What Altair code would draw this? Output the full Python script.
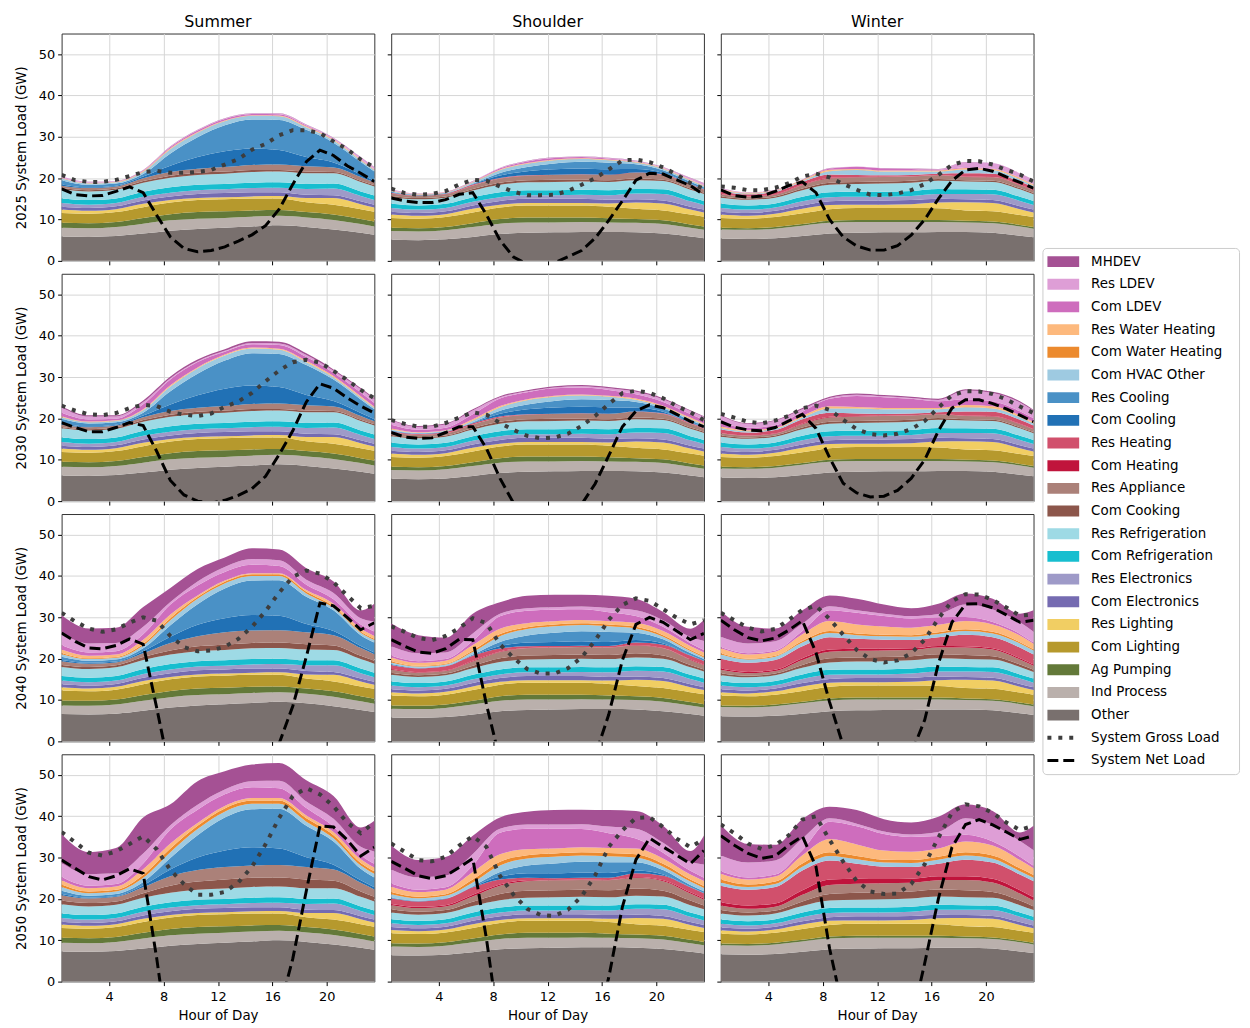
import altair as alt
import pandas as pd

# ---------------- axes / categories ----------------
HOURS_AREA = [0.5, 2.5, 4.5, 6.5, 8.5, 10.5, 12.5, 14.5, 16.5, 18.5, 20.5, 22.5, 23.5]
HOURS_LINE = [0.5, 1.5, 2.5, 3.5, 4.5, 5.5, 6.5, 7.5, 8.5, 9.5, 10.5, 11.5,
              12.5, 13.5, 14.5, 15.5, 16.5, 17.5, 18.5, 19.5, 20.5, 21.5, 22.5, 23.5]
YEARS = ["2025", "2030", "2040", "2050"]
SEASONS = ["Summer", "Shoulder", "Winter"]
X_TICKS = [4, 8, 12, 16, 20]
Y_TICKS = [0, 10, 20, 30, 40, 50]

# stacking order, bottom -> top
CATEGORIES = ["Other", "Ind Process", "Ag Pumping", "Com Lighting", "Res Lighting",
              "Com Electronics", "Res Electronics", "Com Refrigeration", "Res Refrigeration",
              "Com Cooking", "Res Appliance", "Com Heating", "Res Heating", "Com Cooling",
              "Res Cooling", "Com HVAC Other", "Com Water Heating", "Res Water Heating",
              "Com LDEV", "Res LDEV", "MHDEV"]
COLORS = ["#79706e", "#bab0ac", "#637939", "#b6992d", "#f1ce63",
          "#756bb1", "#9e9ac8", "#17becf", "#9edae5",
          "#8c564b", "#ab8179", "#c0143c", "#d1506c", "#2171b5",
          "#4a91c6", "#9ecae1", "#ec8a2e", "#fdb97d",
          "#ce6dbd", "#de9ed6", "#a55194"]
LINE_LABELS = ["System Gross Load", "System Net Load"]

ZERO = [0, 0, 0, 0, 0, 0, 0, 0, 0, 0, 0, 0, 0]
TINY = [0.05, 0.05, 0.05, 0.05, 0.05, 0.05, 0.05, 0.05, 0.05, 0.05, 0.05, 0.05, 0.05]

# ---------------- season-level components (GW) ----------------
S_IND = [2.1, 2.1, 2.2, 2.4, 2.5, 2.5, 2.4, 2.4, 2.3, 2.3, 2.3, 2.1, 2.0]
S_AG = [1.2, 1.2, 1.2, 1.4, 1.5, 1.6, 1.6, 1.5, 1.4, 1.3, 1.3, 1.2, 1.2]
S_CLIGHT = [2.4, 2.3, 2.4, 2.6, 2.8, 2.9, 2.9, 2.9, 2.8, 2.4, 2.4, 2.4, 2.4]
S_RLIGHT = [0.8, 0.7, 0.7, 0.8, 0.6, 0.5, 0.5, 0.5, 0.6, 1.0, 1.6, 1.2, 1.0]
S_CELEC = [0.7, 0.7, 0.7, 0.8, 0.9, 1.0, 1.0, 1.0, 0.9, 0.8, 0.7, 0.7, 0.7]
S_RELEC = [0.9, 0.8, 0.8, 0.9, 0.9, 0.9, 0.9, 1.0, 1.1, 1.4, 1.6, 1.3, 1.1]
S_CREF = [1.1, 1.1, 1.1, 1.2, 1.3, 1.3, 1.3, 1.3, 1.3, 1.2, 1.2, 1.1, 1.1]
S_RREF = [2.2, 2.1, 2.1, 2.2, 2.3, 2.4, 2.5, 2.6, 2.6, 2.6, 2.5, 2.3, 2.2]

H_IND = [2.1, 2.1, 2.2, 2.4, 2.5, 2.5, 2.4, 2.4, 2.3, 2.3, 2.3, 2.1, 2.0]
H_AG = [0.8, 0.8, 0.8, 0.9, 1.1, 1.2, 1.2, 1.1, 1.0, 0.9, 0.9, 0.8, 0.8]
H_CLIGHT = [2.4, 2.3, 2.4, 2.6, 2.8, 2.9, 2.9, 2.9, 2.8, 2.5, 2.4, 2.4, 2.4]
H_RLIGHT = [0.8, 0.7, 0.7, 0.9, 0.7, 0.6, 0.6, 0.6, 0.8, 1.5, 1.7, 1.2, 1.0]
H_CELEC = [0.7, 0.7, 0.7, 0.8, 0.9, 1.0, 1.0, 1.0, 0.9, 0.8, 0.7, 0.7, 0.7]
H_RELEC = [0.9, 0.8, 0.8, 0.9, 0.9, 0.9, 0.9, 1.0, 1.1, 1.4, 1.6, 1.3, 1.1]
H_CREF = [1.0, 1.0, 1.0, 1.1, 1.2, 1.2, 1.2, 1.2, 1.2, 1.1, 1.1, 1.0, 1.0]
H_RREF = [1.6, 1.5, 1.5, 1.6, 1.8, 1.9, 2.0, 2.0, 2.0, 2.1, 2.0, 1.8, 1.7]

W_IND = [2.2, 2.2, 2.3, 2.5, 2.6, 2.6, 2.5, 2.5, 2.4, 2.3, 2.3, 2.2, 2.1]
W_AG = [0.4, 0.4, 0.4, 0.4, 0.5, 0.5, 0.5, 0.5, 0.5, 0.4, 0.4, 0.4, 0.4]
W_CLIGHT = [2.4, 2.3, 2.4, 2.6, 2.8, 2.9, 2.9, 2.9, 2.8, 2.5, 2.5, 2.4, 2.4]
W_RLIGHT = [0.8, 0.7, 0.8, 1.1, 1.0, 0.8, 0.8, 0.9, 1.4, 2.0, 2.0, 1.4, 1.1]
W_CELEC = [0.7, 0.7, 0.7, 0.8, 0.9, 1.0, 1.0, 1.0, 0.9, 0.7, 0.7, 0.7, 0.7]
W_RELEC = [0.9, 0.8, 0.8, 1.0, 1.0, 0.9, 0.9, 1.0, 1.2, 1.3, 1.4, 1.3, 1.1]
W_CREF = [1.0, 1.0, 1.0, 1.1, 1.2, 1.2, 1.2, 1.2, 1.2, 1.1, 1.1, 1.0, 1.0]
W_RREF = [1.5, 1.4, 1.4, 1.6, 1.8, 1.9, 2.0, 2.0, 2.0, 1.9, 1.9, 1.8, 1.6]

# ---------------- panel components (GW) ----------------
# 2025 Summer
SU25_OTHER = [5.9, 5.8, 6.0, 6.6, 7.3, 7.7, 8.0, 8.3, 8.6, 8.2, 7.6, 6.8, 6.3]
SU25_CCOOK = [0.3, 0.3, 0.3, 0.4, 0.5, 0.5, 0.5, 0.5, 0.4, 0.4, 0.3, 0.3, 0.3]
SU25_RAPPL = [0.6, 0.5, 0.5, 0.7, 0.9, 1.0, 1.1, 1.2, 1.3, 1.3, 1.1, 0.9, 0.7]
SU25_CCOOL = [0.3, 0.2, 0.2, 0.4, 1.5, 2.8, 3.8, 4.0, 3.5, 2.2, 1.2, 0.6, 0.4]
SU25_RCOOL = [1.0, 0.6, 0.5, 0.6, 3.0, 4.8, 6.3, 7.0, 7.3, 6.6, 4.8, 3.0, 2.2]
SU25_HVAC = [0.4, 0.3, 0.3, 0.5, 1.0, 1.1, 1.0, 0.9, 0.9, 0.6, 0.5, 0.4, 0.4]
SU25_RWH = [0.1, 0.1, 0.1, 0.2, 0.2, 0.1, 0.1, 0.1, 0.1, 0.2, 0.2, 0.2, 0.1]
SU25_CLDEV = [0.1, 0.05, 0.05, 0.1, 0.3, 0.4, 0.4, 0.3, 0.3, 0.2, 0.1, 0.1, 0.1]
SU25_RLDEV = [0.3, 0.2, 0.1, 0.1, 0.1, 0.1, 0.1, 0.1, 0.2, 0.2, 0.3, 0.4, 0.4]

# 2025 Shoulder
SH25_OTHER = [5.1, 5.0, 5.2, 5.8, 6.5, 6.8, 6.9, 7.0, 7.0, 6.9, 6.6, 5.9, 5.5]
SH25_CCOOK = [0.3, 0.3, 0.3, 0.4, 0.5, 0.5, 0.5, 0.5, 0.4, 0.4, 0.3, 0.3, 0.3]
SH25_RAPPL = [0.6, 0.5, 0.5, 0.8, 1.0, 1.1, 1.2, 1.2, 1.3, 1.4, 1.2, 0.9, 0.7]
SH25_RHEAT = [0.1, 0.05, 0.1, 0.2, 0.1, 0.05, 0, 0, 0, 0.05, 0.1, 0.1, 0.1]
SH25_CCOOL = [0.05, 0.05, 0.05, 0.1, 0.6, 1.0, 1.3, 1.4, 1.3, 0.8, 0.3, 0.1, 0.05]
SH25_RCOOL = [0.2, 0.1, 0.1, 0.1, 0.6, 1.0, 1.4, 1.6, 1.6, 1.2, 0.7, 0.5, 0.4]
SH25_HVAC = [0.2, 0.1, 0.1, 0.3, 0.7, 0.8, 0.8, 0.7, 0.6, 0.4, 0.3, 0.3, 0.3]
SH25_RWH = [0.1, 0.05, 0.05, 0.1, 0.1, 0.1, 0.1, 0.1, 0.1, 0.1, 0.1, 0.1, 0.1]
SH25_CLDEV = [0.05, 0, 0, 0.05, 0.3, 0.4, 0.4, 0.3, 0.2, 0.1, 0.05, 0.05, 0.05]
SH25_RLDEV = [0.2, 0.1, 0.1, 0.1, 0.1, 0.1, 0.1, 0.1, 0.2, 0.2, 0.2, 0.4, 0.5]

# 2025 Winter
WI25_OTHER = [5.4, 5.3, 5.5, 6.0, 6.6, 6.8, 6.9, 6.9, 7.0, 7.0, 6.8, 6.1, 5.7]
WI25_CCOOK = [0.3, 0.3, 0.3, 0.4, 0.5, 0.5, 0.5, 0.5, 0.4, 0.3, 0.3, 0.3, 0.3]
WI25_RAPPL = [0.5, 0.4, 0.4, 0.8, 1.0, 1.1, 1.1, 1.0, 0.9, 0.8, 0.8, 0.7, 0.6]
WI25_CHEAT = [0.1, 0.1, 0.1, 0.1, 0.2, 0.1, 0.1, 0.1, 0.1, 0.1, 0.1, 0.1, 0.1]
WI25_RHEAT = [0.6, 0.5, 0.6, 0.7, 0.8, 0.5, 0.3, 0.3, 0.3, 0.8, 0.8, 0.8, 0.7]
WI25_HVAC = [0.3, 0.2, 0.2, 0.2, 0.8, 1.2, 0.9, 0.8, 0.5, 0.9, 0.8, 0.5, 0.4]
WI25_RWH = [0.2, 0.1, 0.1, 0.2, 0.3, 0.2, 0.2, 0.2, 0.2, 0.3, 0.3, 0.3, 0.2]
WI25_CLDEV = [0.05, 0, 0, 0.05, 0.3, 0.5, 0.5, 0.4, 0.2, 0.2, 0.1, 0.1, 0.1]
WI25_RLDEV = [0.2, 0.1, 0.1, 0.05, 0.05, 0.05, 0.05, 0.05, 0.1, 1.2, 1.3, 1.0, 1.0]

# 2030 Summer
SU30_OTHER = [6.2, 6.1, 6.3, 6.9, 7.6, 8.0, 8.3, 8.6, 8.9, 8.5, 7.9, 7.1, 6.6]
SU30_CCOOL = [0.3, 0.2, 0.2, 0.4, 1.6, 3.0, 4.2, 4.5, 4.0, 2.5, 1.3, 0.7, 0.5]
SU30_RCOOL = [1.1, 0.7, 0.6, 0.7, 3.2, 5.2, 6.8, 7.8, 8.0, 7.2, 5.2, 3.3, 2.4]
SU30_HVAC = [0.4, 0.3, 0.3, 0.6, 1.1, 1.3, 1.2, 1.1, 1.0, 0.7, 0.5, 0.4, 0.4]
SU30_RWH = [0.2, 0.1, 0.1, 0.2, 0.3, 0.2, 0.2, 0.2, 0.2, 0.3, 0.3, 0.3, 0.2]
SU30_CLDEV = [0.8, 0.5, 0.4, 1.2, 1.4, 1.3, 0.7, 0.8, 0.9, 0.9, 0.8, 0.9, 0.9]
SU30_RLDEV = [1.3, 0.7, 0.5, 0.5, 0.3, 0.2, 0.2, 0.3, 0.4, 0.5, 0.5, 0.8, 0.9]
SU30_MHDEV = [0.3, 0.3, 0.3, 0.4, 0.4, 0.4, 0.4, 0.4, 0.4, 0.4, 0.3, 0.3, 0.3]

# 2030 Shoulder
SH30_OTHER = [5.4, 5.3, 5.5, 6.1, 6.8, 7.1, 7.2, 7.3, 7.3, 7.2, 6.9, 6.2, 5.8]
SH30_RHEAT = [0.2, 0.2, 0.3, 0.3, 0.2, 0.05, 0, 0, 0, 0.05, 0.1, 0.2, 0.2]
SH30_CCOOL = [0.05, 0.05, 0.05, 0.1, 0.7, 1.2, 1.5, 1.6, 1.5, 0.9, 0.4, 0.1, 0.05]
SH30_RCOOL = [0.2, 0.1, 0.1, 0.1, 0.7, 1.2, 1.6, 1.8, 1.8, 1.4, 0.8, 0.5, 0.4]
SH30_HVAC = [0.2, 0.1, 0.1, 0.4, 0.8, 1.0, 1.0, 0.9, 0.8, 0.5, 0.3, 0.3, 0.3]
SH30_RWH = [0.2, 0.1, 0.1, 0.3, 0.3, 0.2, 0.2, 0.2, 0.2, 0.3, 0.3, 0.3, 0.2]
SH30_CLDEV = [0.9, 0.6, 0.6, 1.2, 1.8, 1.7, 1.8, 1.7, 1.4, 1.0, 0.9, 0.9, 0.9]
SH30_RLDEV = [1.1, 0.7, 0.8, 0.9, 0.3, 0.2, 0.2, 0.3, 0.4, 0.6, 0.6, 0.7, 0.7]
SH30_MHDEV = [0.2, 0.2, 0.2, 0.3, 0.3, 0.3, 0.3, 0.3, 0.3, 0.3, 0.3, 0.2, 0.2]

# 2030 Winter
WI30_OTHER = [5.7, 5.6, 5.8, 6.3, 6.9, 7.1, 7.2, 7.2, 7.3, 7.3, 7.1, 6.4, 6.0]
WI30_CHEAT = [0.1, 0.1, 0.1, 0.2, 0.2, 0.1, 0.1, 0.1, 0.1, 0.1, 0.1, 0.1, 0.1]
WI30_RHEAT = [0.8, 0.7, 0.8, 1.0, 1.0, 0.6, 0.4, 0.4, 0.4, 1.0, 1.0, 1.0, 0.9]
WI30_HVAC = [0.4, 0.3, 0.3, 0.4, 1.0, 1.2, 1.1, 1.0, 0.7, 1.0, 0.8, 0.6, 0.5]
WI30_RWH = [0.3, 0.2, 0.2, 0.4, 0.5, 0.3, 0.3, 0.3, 0.3, 0.5, 0.5, 0.4, 0.3]
WI30_CLDEV = [0.9, 0.6, 0.6, 1.0, 1.8, 2.7, 2.6, 2.2, 1.6, 1.4, 1.2, 1.0, 0.9]
WI30_RLDEV = [1.7, 0.9, 1.1, 0.6, 0.2, 0.3, 0.2, 0.2, 0.3, 2.1, 2.0, 2.1, 1.8]
WI30_MHDEV = [0.2, 0.2, 0.2, 0.3, 0.3, 0.3, 0.3, 0.3, 0.3, 0.3, 0.3, 0.3, 0.2]

# 2040 Summer
SU40_OTHER = [6.6, 6.5, 6.7, 7.4, 8.2, 8.7, 9.0, 9.3, 9.6, 9.2, 8.5, 7.6, 7.1]
SU40_CCOOK = [0.5, 0.5, 0.5, 0.7, 1.0, 1.2, 1.3, 1.3, 1.3, 1.3, 1.1, 0.8, 0.7]
SU40_RAPPL = [0.9, 0.8, 0.7, 0.9, 1.8, 2.4, 3.0, 3.0, 3.0, 2.9, 2.5, 1.9, 1.6]
SU40_CCOOL = [0.3, 0.2, 0.2, 0.5, 1.5, 2.8, 3.4, 3.8, 3.5, 2.0, 1.0, 0.5, 0.4]
SU40_RCOOL = [0.8, 0.5, 0.5, 0.7, 2.8, 5.0, 7.2, 8.3, 8.6, 6.6, 5.0, 2.6, 2.4]
SU40_HVAC = [0.6, 0.4, 0.4, 0.7, 1.2, 1.3, 1.2, 1.1, 1.0, 0.8, 0.6, 0.6, 0.6]
SU40_CWH = [0.3, 0.2, 0.2, 0.4, 0.5, 0.4, 0.4, 0.4, 0.4, 0.4, 0.4, 0.3, 0.3]
SU40_RWH = [0.8, 0.6, 0.6, 1.0, 0.9, 0.4, 0.3, 0.3, 0.3, 0.4, 0.6, 0.7, 0.7]
SU40_CLDEV = [1.1, 0.8, 0.8, 1.3, 2.4, 2.4, 2.1, 2.0, 1.7, 1.3, 1.1, 1.0, 1.1]
SU40_RLDEV = [2.8, 2.2, 2.0, 1.8, 0.6, 1.0, 1.2, 1.4, 1.4, 1.2, 1.5, 1.5, 2.4]
SU40_MHDEV = [4.4, 3.6, 3.7, 4.8, 3.4, 3.0, 2.3, 2.6, 2.6, 2.8, 2.8, 1.9, 4.3]

# 2040 Shoulder
SH40_OTHER = [5.8, 5.7, 5.9, 6.5, 7.3, 7.6, 7.7, 7.8, 7.8, 7.7, 7.3, 6.6, 6.2]
SH40_CCOOK = [0.5, 0.4, 0.4, 0.6, 0.9, 1.0, 1.0, 1.0, 1.0, 1.0, 0.8, 0.6, 0.5]
SH40_RAPPL = [0.8, 0.6, 0.6, 1.0, 1.5, 1.7, 1.8, 1.8, 1.8, 1.9, 1.7, 1.2, 1.0]
SH40_CHEAT = [0.15, 0.15, 0.15, 0.2, 0.15, 0.1, 0.05, 0.05, 0.05, 0.1, 0.1, 0.15, 0.15]
SH40_RHEAT = [0.9, 0.9, 1.0, 1.2, 0.7, 0.4, 0.3, 0.3, 0.3, 0.6, 0.8, 0.9, 0.9]
SH40_CCOOL = [0.05, 0.05, 0.05, 0.1, 0.6, 0.9, 1.0, 1.1, 1.0, 0.6, 0.3, 0.1, 0.05]
SH40_RCOOL = [0.2, 0.1, 0.1, 0.2, 1.0, 1.7, 2.2, 2.4, 2.4, 1.8, 1.0, 0.5, 0.4]
SH40_HVAC = [0.4, 0.3, 0.3, 0.6, 1.4, 1.6, 1.6, 1.5, 1.4, 1.0, 0.6, 0.5, 0.4]
SH40_CWH = [0.3, 0.2, 0.2, 0.4, 0.5, 0.4, 0.4, 0.4, 0.4, 0.4, 0.4, 0.3, 0.3]
SH40_RWH = [0.9, 0.7, 0.7, 1.3, 1.3, 1.0, 0.8, 0.8, 0.8, 1.0, 1.0, 0.9, 0.9]
SH40_CLDEV = [0.5, 0.4, 0.4, 1.0, 3.0, 3.0, 2.8, 2.6, 2.2, 1.6, 1.0, 0.7, 0.6]
SH40_RLDEV = [2.2, 1.9, 1.6, 1.8, 0.6, 0.6, 0.6, 0.7, 1.0, 1.4, 1.6, 1.5, 2.2]
SH40_MHDEV = [5.5, 4.4, 3.6, 4.8, 2.8, 3.0, 3.0, 2.8, 3.0, 2.8, 2.0, 2.0, 5.1]

# 2040 Winter
WI40_OTHER = [6.1, 6.0, 6.2, 6.7, 7.3, 7.5, 7.6, 7.6, 7.7, 7.7, 7.5, 6.8, 6.4]
WI40_CCOOK = [0.5, 0.4, 0.4, 0.7, 1.0, 1.0, 1.0, 1.0, 1.0, 1.0, 0.8, 0.6, 0.5]
WI40_RAPPL = [0.8, 0.6, 0.6, 1.2, 1.6, 1.6, 1.6, 1.5, 1.6, 1.8, 1.6, 1.2, 1.0]
WI40_CHEAT = [0.3, 0.3, 0.3, 0.4, 0.5, 0.5, 0.4, 0.4, 0.4, 0.3, 0.3, 0.3, 0.3]
WI40_RHEAT = [2.4, 2.2, 2.4, 2.9, 3.0, 2.4, 2.2, 2.0, 2.1, 2.8, 2.7, 2.6, 2.4]
WI40_HVAC = [1.0, 0.8, 0.8, 0.9, 1.0, 0.9, 0.8, 0.8, 0.8, 0.9, 0.9, 1.0, 1.0]
WI40_CWH = [0.3, 0.2, 0.2, 0.4, 0.5, 0.4, 0.4, 0.4, 0.4, 0.4, 0.4, 0.3, 0.3]
WI40_RWH = [1.2, 1.0, 1.0, 1.6, 2.4, 2.2, 2.0, 1.8, 1.8, 2.0, 1.8, 1.6, 1.3]
WI40_CLDEV = [0.3, 0.3, 0.3, 0.8, 2.6, 2.8, 2.5, 2.2, 1.8, 1.0, 0.6, 0.4, 0.3]
WI40_RLDEV = [2.5, 2.4, 2.2, 1.8, 1.0, 0.6, 0.6, 0.6, 0.8, 3.0, 3.0, 2.8, 2.6]
WI40_MHDEV = [6.2, 4.0, 3.1, 3.2, 2.6, 2.8, 2.2, 1.9, 2.5, 2.7, 2.6, 2.1, 5.2]

# 2050 Summer
SU50_OTHER = [7.3, 7.2, 7.4, 8.0, 8.7, 9.1, 9.4, 9.7, 10.0, 9.6, 9.0, 8.2, 7.7]
SU50_CCOOK = [0.9, 0.8, 0.8, 1.1, 1.7, 2.0, 2.2, 2.2, 2.2, 2.1, 1.8, 1.3, 1.1]
SU50_RAPPL = [1.3, 1.1, 1.1, 1.4, 2.3, 2.8, 3.0, 3.0, 3.0, 3.0, 2.7, 2.1, 1.8]
SU50_CCOOL = [0.3, 0.2, 0.2, 0.5, 1.6, 3.0, 4.0, 4.4, 4.0, 2.4, 1.2, 0.6, 0.5]
SU50_RCOOL = [0.8, 0.5, 0.5, 0.8, 2.8, 5.4, 8.0, 9.2, 9.6, 7.6, 5.6, 2.8, 2.4]
SU50_HVAC = [0.9, 0.6, 0.6, 1.0, 1.4, 1.5, 1.4, 1.3, 1.2, 1.0, 0.8, 0.8, 0.9]
SU50_CWH = [0.6, 0.4, 0.4, 0.7, 0.9, 0.8, 0.8, 0.8, 0.8, 0.8, 0.7, 0.6, 0.6]
SU50_RWH = [1.0, 0.8, 0.8, 1.4, 1.2, 0.7, 0.6, 0.6, 0.6, 0.7, 0.8, 0.9, 0.9]
SU50_CLDEV = [0.8, 0.6, 0.6, 1.4, 3.4, 3.2, 2.8, 2.6, 2.4, 1.8, 1.3, 1.0, 0.9]
SU50_RLDEV = [3.4, 2.8, 2.6, 2.4, 1.0, 1.2, 1.2, 1.5, 1.8, 1.6, 1.9, 2.0, 3.0]
SU50_MHDEV = [7.0, 5.3, 6.1, 8.7, 5.1, 5.7, 4.4, 4.0, 4.3, 5.1, 5.5, 4.7, 7.4]

# 2050 Shoulder
SH50_OTHER = [6.4, 6.3, 6.5, 7.1, 7.8, 8.1, 8.2, 8.3, 8.3, 8.2, 7.9, 7.2, 6.8]
SH50_CCOOK = [0.8, 0.7, 0.7, 1.0, 1.5, 1.7, 1.7, 1.7, 1.7, 1.7, 1.4, 1.1, 0.9]
SH50_RAPPL = [1.0, 0.9, 0.9, 1.3, 2.0, 2.3, 2.4, 2.4, 2.4, 2.6, 2.3, 1.7, 1.4]
SH50_CHEAT = [0.3, 0.3, 0.3, 0.4, 0.3, 0.2, 0.1, 0.1, 0.1, 0.2, 0.2, 0.3, 0.3]
SH50_RHEAT = [1.3, 1.3, 1.5, 1.8, 1.2, 0.6, 0.4, 0.4, 0.5, 0.9, 1.1, 1.2, 1.3]
SH50_CCOOL = [0.05, 0.05, 0.05, 0.1, 0.7, 1.1, 1.2, 1.3, 1.2, 0.7, 0.3, 0.1, 0.05]
SH50_RCOOL = [0.2, 0.1, 0.1, 0.2, 1.1, 1.9, 2.4, 2.6, 2.6, 2.0, 1.1, 0.5, 0.4]
SH50_HVAC = [0.8, 0.6, 0.6, 0.9, 1.6, 1.7, 1.6, 1.5, 1.4, 1.1, 0.8, 0.8, 0.8]
SH50_CWH = [0.5, 0.4, 0.4, 0.7, 0.9, 0.8, 0.8, 0.8, 0.8, 0.8, 0.7, 0.5, 0.5]
SH50_RWH = [1.3, 1.1, 1.1, 1.8, 1.8, 1.4, 1.2, 1.2, 1.2, 1.4, 1.3, 1.2, 1.2]
SH50_CLDEV = [0.8, 0.6, 0.6, 1.6, 5.2, 5.0, 4.8, 4.4, 3.6, 2.4, 1.4, 0.9, 0.8]
SH50_RLDEV = [3.4, 3.0, 2.8, 2.8, 1.0, 1.0, 1.0, 1.2, 1.6, 2.4, 2.4, 2.2, 3.2]
SH50_MHDEV = [5.8, 4.2, 4.5, 4.4, 2.7, 3.1, 3.5, 3.5, 4.0, 4.3, 4.1, 2.6, 7.0]

# 2050 Winter
WI50_OTHER = [6.6, 6.5, 6.7, 7.2, 7.8, 8.0, 8.1, 8.1, 8.2, 8.2, 8.0, 7.3, 6.9]
WI50_CCOOK = [0.8, 0.7, 0.7, 1.1, 1.6, 1.7, 1.7, 1.7, 1.7, 1.7, 1.4, 1.1, 0.9]
WI50_RAPPL = [1.1, 0.9, 0.9, 1.6, 2.2, 2.2, 2.2, 2.1, 2.2, 2.5, 2.3, 1.7, 1.4]
WI50_CHEAT = [0.8, 0.8, 0.8, 1.1, 1.3, 1.2, 1.0, 1.0, 1.0, 0.9, 0.9, 0.8, 0.8]
WI50_RHEAT = [4.0, 3.8, 4.0, 4.8, 4.6, 3.6, 3.0, 2.8, 3.0, 4.0, 3.9, 3.8, 3.9]
WI50_HVAC = [0.8, 0.7, 0.7, 0.9, 1.1, 1.1, 1.0, 1.0, 1.0, 1.0, 0.9, 0.8, 0.8]
WI50_CWH = [0.7, 0.6, 0.6, 0.8, 0.9, 0.8, 0.7, 0.7, 0.7, 0.8, 0.8, 0.7, 0.7]
WI50_RWH = [1.4, 1.2, 1.2, 2.0, 3.2, 2.8, 2.2, 2.0, 2.0, 2.6, 2.4, 2.0, 1.6]
WI50_CLDEV = [0.6, 0.5, 0.5, 1.2, 4.2, 4.4, 4.0, 3.6, 3.0, 1.6, 1.0, 0.8, 0.6]
WI50_RLDEV = [3.8, 3.6, 3.4, 2.8, 0.8, 0.6, 0.6, 0.6, 1.0, 4.0, 4.0, 3.8, 3.8]
WI50_MHDEV = [7.4, 4.5, 3.8, 4.7, 2.8, 3.3, 3.0, 2.9, 3.7, 3.4, 3.4, 2.1, 5.9]

# ---------------- system load lines (GW, hourly) ----------------
G_SU25 = [20.8, 19.5, 19.1, 19.1, 19.6, 20.5, 21.5, 21.8, 21.3, 21.3, 21.5, 22.0, 23.3, 24.6, 26.9, 28.3, 30.4, 31.6, 31.6, 30.9, 28.9, 27.0, 24.5, 22.6]
N_SU25 = [17.4, 16.0, 15.7, 15.8, 16.8, 17.9, 16.5, 11.0, 5.8, 3.0, 2.2, 2.5, 3.4, 4.8, 6.3, 8.5, 12.5, 18.5, 24.0, 26.8, 25.5, 23.0, 21.2, 19.2]
G_SH25 = [17.5, 16.4, 16.0, 16.2, 16.9, 18.5, 19.6, 19.4, 18.0, 16.7, 15.9, 15.9, 16.0, 16.9, 18.4, 20.0, 22.1, 24.3, 24.5, 23.9, 22.6, 20.9, 18.8, 17.4]
N_SH25 = [15.2, 14.5, 14.1, 14.1, 14.8, 16.1, 16.5, 11.2, 5.0, 0.9, -0.8, -1.2, -0.5, 1.0, 2.5, 5.5, 9.8, 14.5, 19.5, 21.2, 21.0, 19.6, 18.2, 16.0]
G_WI25 = [18.0, 17.7, 17.1, 17.1, 17.7, 18.8, 20.4, 21.1, 20.2, 18.6, 17.2, 16.0, 15.9, 16.3, 17.1, 18.6, 20.8, 23.2, 24.2, 24.1, 23.3, 22.0, 20.9, 19.2]
N_WI25 = [17.2, 15.8, 15.4, 15.7, 16.8, 18.2, 19.1, 16.5, 10.0, 5.8, 3.6, 2.6, 2.6, 3.7, 6.2, 10.0, 15.0, 19.4, 22.0, 22.4, 21.7, 20.3, 19.0, 17.6]
G_SU30 = [23.1, 21.9, 21.0, 20.8, 21.3, 22.5, 23.3, 23.0, 21.6, 20.9, 20.6, 21.2, 22.8, 24.1, 26.2, 29.0, 31.6, 33.6, 34.2, 33.5, 31.5, 29.3, 26.9, 24.9]
N_SU30 = [19.0, 17.8, 16.8, 16.8, 17.8, 19.0, 18.3, 12.0, 5.0, 1.5, 0.0, -0.5, 0.2, 1.4, 3.0, 6.0, 11.3, 17.0, 24.0, 28.4, 27.3, 25.0, 23.0, 21.3]
G_SH30 = [19.6, 18.7, 18.0, 18.0, 18.9, 20.2, 21.5, 20.9, 18.9, 17.2, 15.8, 15.2, 15.4, 16.3, 18.2, 20.6, 23.5, 26.1, 26.7, 26.2, 24.9, 23.0, 21.5, 19.6]
N_SH30 = [16.6, 15.5, 15.2, 15.3, 16.6, 18.0, 18.0, 12.8, 5.5, -0.5, -4.0, -5.5, -5.0, -3.0, -0.8, 4.2, 11.0, 18.0, 21.8, 23.3, 22.6, 21.0, 19.3, 18.0]
G_WI30 = [21.1, 20.2, 19.2, 18.8, 19.5, 20.6, 22.5, 23.1, 22.1, 19.7, 17.4, 16.2, 15.9, 16.3, 17.4, 19.4, 22.6, 25.6, 26.6, 26.5, 25.9, 24.6, 22.9, 21.3]
N_WI30 = [19.2, 17.9, 17.2, 17.0, 17.8, 19.4, 21.0, 17.6, 10.5, 4.3, 2.0, 1.0, 1.2, 2.6, 5.5, 10.0, 17.0, 22.5, 24.5, 24.5, 23.6, 22.3, 20.8, 19.2]
G_SU40 = [31.1, 29.0, 27.3, 26.5, 27.1, 28.7, 30.0, 29.2, 25.5, 22.8, 21.8, 22.0, 22.9, 24.8, 27.7, 31.5, 36.0, 39.8, 41.3, 40.6, 38.5, 35.3, 32.2, 32.8]
N_SU40 = [26.2, 24.2, 22.6, 22.4, 23.2, 24.8, 23.5, 8.0, -8.0, -15.0, -20.0, -22.0, -22.0, -20.0, -15.0, -8.0, -0.5, 8.5, 20.5, 33.5, 32.8, 30.0, 27.0, 28.7]
G_SH40 = [27.8, 26.5, 25.0, 24.5, 25.5, 27.4, 29.8, 28.6, 23.5, 20.2, 17.5, 16.4, 16.4, 17.7, 20.3, 24.4, 29.4, 33.0, 34.6, 34.0, 32.0, 29.9, 28.3, 29.3]
N_SH40 = [24.6, 23.0, 21.6, 21.3, 22.4, 24.7, 24.6, 9.0, -4.5, -12.0, -17.0, -19.0, -19.0, -16.0, -10.0, -3.5, 6.5, 19.6, 28.3, 30.0, 28.8, 26.7, 24.6, 26.1]
G_WI40 = [31.1, 29.3, 27.5, 26.6, 27.2, 29.4, 31.8, 32.8, 29.6, 25.8, 22.1, 19.9, 19.1, 19.6, 21.3, 24.6, 29.7, 33.9, 35.6, 35.5, 34.2, 32.4, 30.4, 30.7]
N_WI40 = [29.3, 27.0, 25.1, 24.3, 25.0, 26.9, 29.2, 21.5, 9.5, -1.0, -8.0, -11.0, -11.0, -8.0, -3.0, 5.2, 18.8, 28.8, 33.2, 33.3, 32.3, 30.6, 28.8, 29.3]
G_SU50 = [36.2, 33.7, 31.2, 30.5, 31.5, 33.3, 35.2, 32.0, 27.0, 23.6, 21.0, 21.0, 21.7, 24.0, 27.8, 33.2, 39.6, 44.9, 46.8, 45.3, 42.4, 38.5, 35.9, 38.5]
N_SU50 = [29.4, 27.4, 25.4, 24.6, 25.6, 27.3, 26.2, 5.5, -18.0, -30.0, -38.0, -42.0, -42.0, -38.0, -30.0, -20.0, -7.0, 5.5, 22.0, 37.7, 37.4, 34.3, 30.4, 32.5]
G_SH50 = [33.4, 31.4, 29.4, 29.1, 30.2, 32.9, 35.2, 32.6, 25.6, 21.0, 17.6, 16.1, 15.9, 17.4, 20.6, 25.7, 32.6, 36.6, 39.6, 39.8, 37.4, 34.6, 32.5, 34.5]
N_SH50 = [29.1, 27.4, 25.6, 24.9, 25.6, 27.6, 29.8, 10.5, -13.0, -27.0, -35.0, -40.0, -40.0, -35.0, -25.0, -12.0, 1.0, 18.0, 29.5, 34.7, 32.6, 30.6, 28.5, 31.7]
G_WI50 = [38.0, 35.9, 33.4, 32.1, 33.0, 35.4, 39.2, 40.0, 34.3, 29.0, 24.3, 21.8, 21.2, 21.3, 23.6, 28.4, 34.8, 40.9, 42.9, 42.4, 40.8, 38.5, 36.7, 37.7]
N_WI50 = [35.3, 33.0, 31.0, 29.8, 30.4, 33.0, 35.2, 27.8, 8.0, -7.0, -17.0, -22.0, -23.0, -19.0, -10.0, 4.5, 20.0, 32.5, 38.0, 39.2, 37.9, 36.2, 34.4, 35.3]

# ---------------- assemble tables ----------------
SHARED = {
    "Summer": [S_IND, S_AG, S_CLIGHT, S_RLIGHT, S_CELEC, S_RELEC, S_CREF, S_RREF],
    "Shoulder": [H_IND, H_AG, H_CLIGHT, H_RLIGHT, H_CELEC, H_RELEC, H_CREF, H_RREF],
    "Winter": [W_IND, W_AG, W_CLIGHT, W_RLIGHT, W_CELEC, W_RELEC, W_CREF, W_RREF],
}
# (other, com cooking, res appliance, com heat, res heat, com cool, res cool, hvac, com wh, res wh, com ldev, res ldev, mhdev)
PANELS = {
    ("2025", "Summer"): (SU25_OTHER, SU25_CCOOK, SU25_RAPPL, ZERO, ZERO, SU25_CCOOL, SU25_RCOOL, SU25_HVAC, TINY, SU25_RWH, SU25_CLDEV, SU25_RLDEV, TINY),
    ("2025", "Shoulder"): (SH25_OTHER, SH25_CCOOK, SH25_RAPPL, TINY, SH25_RHEAT, SH25_CCOOL, SH25_RCOOL, SH25_HVAC, TINY, SH25_RWH, SH25_CLDEV, SH25_RLDEV, TINY),
    ("2025", "Winter"): (WI25_OTHER, WI25_CCOOK, WI25_RAPPL, WI25_CHEAT, WI25_RHEAT, ZERO, ZERO, WI25_HVAC, TINY, WI25_RWH, WI25_CLDEV, WI25_RLDEV, TINY),
    ("2030", "Summer"): (SU30_OTHER, SU25_CCOOK, SU25_RAPPL, ZERO, ZERO, SU30_CCOOL, SU30_RCOOL, SU30_HVAC, TINY, SU30_RWH, SU30_CLDEV, SU30_RLDEV, SU30_MHDEV),
    ("2030", "Shoulder"): (SH30_OTHER, SH25_CCOOK, SH25_RAPPL, TINY, SH30_RHEAT, SH30_CCOOL, SH30_RCOOL, SH30_HVAC, TINY, SH30_RWH, SH30_CLDEV, SH30_RLDEV, SH30_MHDEV),
    ("2030", "Winter"): (WI30_OTHER, WI25_CCOOK, WI25_RAPPL, WI30_CHEAT, WI30_RHEAT, ZERO, ZERO, WI30_HVAC, TINY, WI30_RWH, WI30_CLDEV, WI30_RLDEV, WI30_MHDEV),
    ("2040", "Summer"): (SU40_OTHER, SU40_CCOOK, SU40_RAPPL, ZERO, ZERO, SU40_CCOOL, SU40_RCOOL, SU40_HVAC, SU40_CWH, SU40_RWH, SU40_CLDEV, SU40_RLDEV, SU40_MHDEV),
    ("2040", "Shoulder"): (SH40_OTHER, SH40_CCOOK, SH40_RAPPL, SH40_CHEAT, SH40_RHEAT, SH40_CCOOL, SH40_RCOOL, SH40_HVAC, SH40_CWH, SH40_RWH, SH40_CLDEV, SH40_RLDEV, SH40_MHDEV),
    ("2040", "Winter"): (WI40_OTHER, WI40_CCOOK, WI40_RAPPL, WI40_CHEAT, WI40_RHEAT, ZERO, ZERO, WI40_HVAC, WI40_CWH, WI40_RWH, WI40_CLDEV, WI40_RLDEV, WI40_MHDEV),
    ("2050", "Summer"): (SU50_OTHER, SU50_CCOOK, SU50_RAPPL, ZERO, ZERO, SU50_CCOOL, SU50_RCOOL, SU50_HVAC, SU50_CWH, SU50_RWH, SU50_CLDEV, SU50_RLDEV, SU50_MHDEV),
    ("2050", "Shoulder"): (SH50_OTHER, SH50_CCOOK, SH50_RAPPL, SH50_CHEAT, SH50_RHEAT, SH50_CCOOL, SH50_RCOOL, SH50_HVAC, SH50_CWH, SH50_RWH, SH50_CLDEV, SH50_RLDEV, SH50_MHDEV),
    ("2050", "Winter"): (WI50_OTHER, WI50_CCOOK, WI50_RAPPL, WI50_CHEAT, WI50_RHEAT, ZERO, ZERO, WI50_HVAC, WI50_CWH, WI50_RWH, WI50_CLDEV, WI50_RLDEV, WI50_MHDEV),
}
LINES = {
    ("2025", "Summer"): (G_SU25, N_SU25), ("2025", "Shoulder"): (G_SH25, N_SH25), ("2025", "Winter"): (G_WI25, N_WI25),
    ("2030", "Summer"): (G_SU30, N_SU30), ("2030", "Shoulder"): (G_SH30, N_SH30), ("2030", "Winter"): (G_WI30, N_WI30),
    ("2040", "Summer"): (G_SU40, N_SU40), ("2040", "Shoulder"): (G_SH40, N_SH40), ("2040", "Winter"): (G_WI40, N_WI40),
    ("2050", "Summer"): (G_SU50, N_SU50), ("2050", "Shoulder"): (G_SH50, N_SH50), ("2050", "Winter"): (G_WI50, N_WI50),
}

area_rows = []
for (year, season), p in PANELS.items():
    series = [p[0]] + SHARED[season] + list(p[1:])
    for k, (cat, vals) in enumerate(zip(CATEGORIES, series)):
        for h, v in zip(HOURS_AREA, vals):
            area_rows.append({"year": year, "season": season, "hour": h,
                              "category": cat, "order": k, "value": v})
area_df = pd.DataFrame(area_rows)

line_rows = []
for (year, season), (g, n) in LINES.items():
    for h, gv, nv in zip(HOURS_LINE, g, n):
        line_rows.append({"year": year, "season": season, "hour": h, "gross": gv, "net": nv})
line_df = pd.DataFrame(line_rows)

FONT = "DejaVu Sans"
GROSS_COLOR = "#3d3d3d"
GROSS_DASH = [4, 7]
NET_DASH = [11, 5]
PANEL_W, PANEL_H = 315, 229


def make_panel(year, season, ri, ci):
    adf = area_df[(area_df["year"] == year) & (area_df["season"] == season)]
    ldf = line_df[(line_df["year"] == year) & (line_df["season"] == season)]
    bottom = ri == len(YEARS) - 1
    left = ci == 0
    xaxis = alt.Axis(values=X_TICKS, labels=bottom, title="Hour of Day" if bottom else None,
                     format="d", grid=True, titlePadding=5, labelPadding=5)
    yaxis = alt.Axis(values=Y_TICKS, labels=left,
                     title=f"{year} System Load (GW)" if left else None,
                     format="d", grid=True, titlePadding=10)
    xs = alt.Scale(domain=[0.5, 23.5], nice=False, zero=False)
    ys = alt.Scale(domain=[0, 55], nice=False)

    area = alt.Chart(adf).mark_area(interpolate="monotone").encode(
        x=alt.X("hour:Q", scale=xs, axis=xaxis),
        y=alt.Y("value:Q", stack="zero", scale=ys, axis=yaxis),
        color=alt.Color("category:N", scale=alt.Scale(domain=CATEGORIES, range=COLORS), legend=None),
        order=alt.Order("order:Q", sort="ascending"),
    )
    gross = alt.Chart(ldf).mark_line(color=GROSS_COLOR, strokeWidth=4, strokeDash=GROSS_DASH,
                                     strokeCap="butt", clip=True).encode(
        x=alt.X("hour:Q", scale=xs, axis=xaxis),
        y=alt.Y("gross:Q", scale=ys, axis=yaxis),
    )
    net = alt.Chart(ldf).mark_line(color="#000000", strokeWidth=3, strokeDash=NET_DASH,
                                   strokeCap="butt", clip=True).encode(
        x=alt.X("hour:Q", scale=xs, axis=xaxis),
        y=alt.Y("net:Q", scale=ys, axis=yaxis),
    )
    layer = alt.layer(area, gross, net).properties(width=PANEL_W, height=PANEL_H)
    if ri == 0:
        layer = layer.properties(title=alt.TitleParams(season, fontSize=16, fontWeight="normal",
                                                       font=FONT, color="#000", offset=4))
    return layer


# ---------------- legend ----------------
LEGEND_LABELS = CATEGORIES[::-1] + LINE_LABELS
legend_df = pd.DataFrame({"idx": list(range(len(LEGEND_LABELS))), "label": LEGEND_LABELS})
n_patch = len(CATEGORIES)
patch_df = legend_df.iloc[:n_patch]
gross_df = legend_df.iloc[n_patch:n_patch + 1]
net_df = legend_df.iloc[n_patch + 1:]

LEG_W, LEG_H = 198, 530
LEG_OFFSET = 215
leg_y = alt.Scale(domain=[-0.6, len(LEGEND_LABELS) - 0.4], reverse=True, nice=False, zero=False)

patches = alt.Chart(patch_df).transform_calculate(
    y0="datum.idx - 0.24", y1="datum.idx + 0.24"
).mark_rect().encode(
    x=alt.value(5), x2=alt.value(37),
    y=alt.Y("y0:Q", scale=leg_y, axis=None), y2="y1:Q",
    color=alt.Color("label:N", scale=alt.Scale(domain=CATEGORIES, range=COLORS), legend=None),
)
leg_gross = alt.Chart(gross_df).mark_rule(color=GROSS_COLOR, strokeWidth=4, strokeDash=GROSS_DASH,
                                          strokeCap="butt").encode(
    x=alt.value(5), x2=alt.value(37), y=alt.Y("idx:Q", scale=leg_y, axis=None))
leg_net = alt.Chart(net_df).mark_rule(color="#000000", strokeWidth=3, strokeDash=NET_DASH,
                                      strokeCap="butt").encode(
    x=alt.value(5), x2=alt.value(37), y=alt.Y("idx:Q", scale=leg_y, axis=None))
leg_text = alt.Chart(legend_df).mark_text(align="left", baseline="middle", fontSize=13.5,
                                          font=FONT, color="#000").encode(
    x=alt.value(49), y=alt.Y("idx:Q", scale=leg_y, axis=None), text="label:N")

legend = alt.layer(patches, leg_gross, leg_net, leg_text).properties(
    width=LEG_W, height=LEG_H,
    view=alt.ViewBackground(stroke="#cccccc", strokeWidth=1, cornerRadius=4, fill="white"),
)
# empty spacer that pushes the legend box down to the middle of the figure
spacer = alt.Chart(pd.DataFrame({"v": [0]})).mark_point(opacity=0).encode(
    x=alt.X("v:Q", axis=None), y=alt.Y("v:Q", axis=None)
).properties(width=LEG_W, height=LEG_OFFSET,
             view=alt.ViewBackground(strokeOpacity=0, fillOpacity=0))
legend_col = alt.vconcat(spacer, legend, spacing=0)

rows = []
for ri, year in enumerate(YEARS):
    rows.append(alt.hconcat(*[make_panel(year, s, ri, ci) for ci, s in enumerate(SEASONS)], spacing=11))
grid = alt.vconcat(*rows, spacing=4)

chart = alt.hconcat(grid, legend_col, spacing=7).properties(
    padding={"left": 5, "top": 1, "right": 2, "bottom": 0}
).configure(font=FONT).configure_view(
    stroke="#333333", strokeWidth=1
).configure_axis(
    labelFontSize=13, titleFontSize=13.5, titleFontWeight="normal", labelColor="#000",
    titleColor="#000", tickColor="#000", tickSize=4, domain=False, gridColor="#d6d6d6",
    gridWidth=1, labelPadding=3, labelFont=FONT, titleFont=FONT,
)

chart.save("out.html", embed_options={"renderer": "svg", "actions": False})
